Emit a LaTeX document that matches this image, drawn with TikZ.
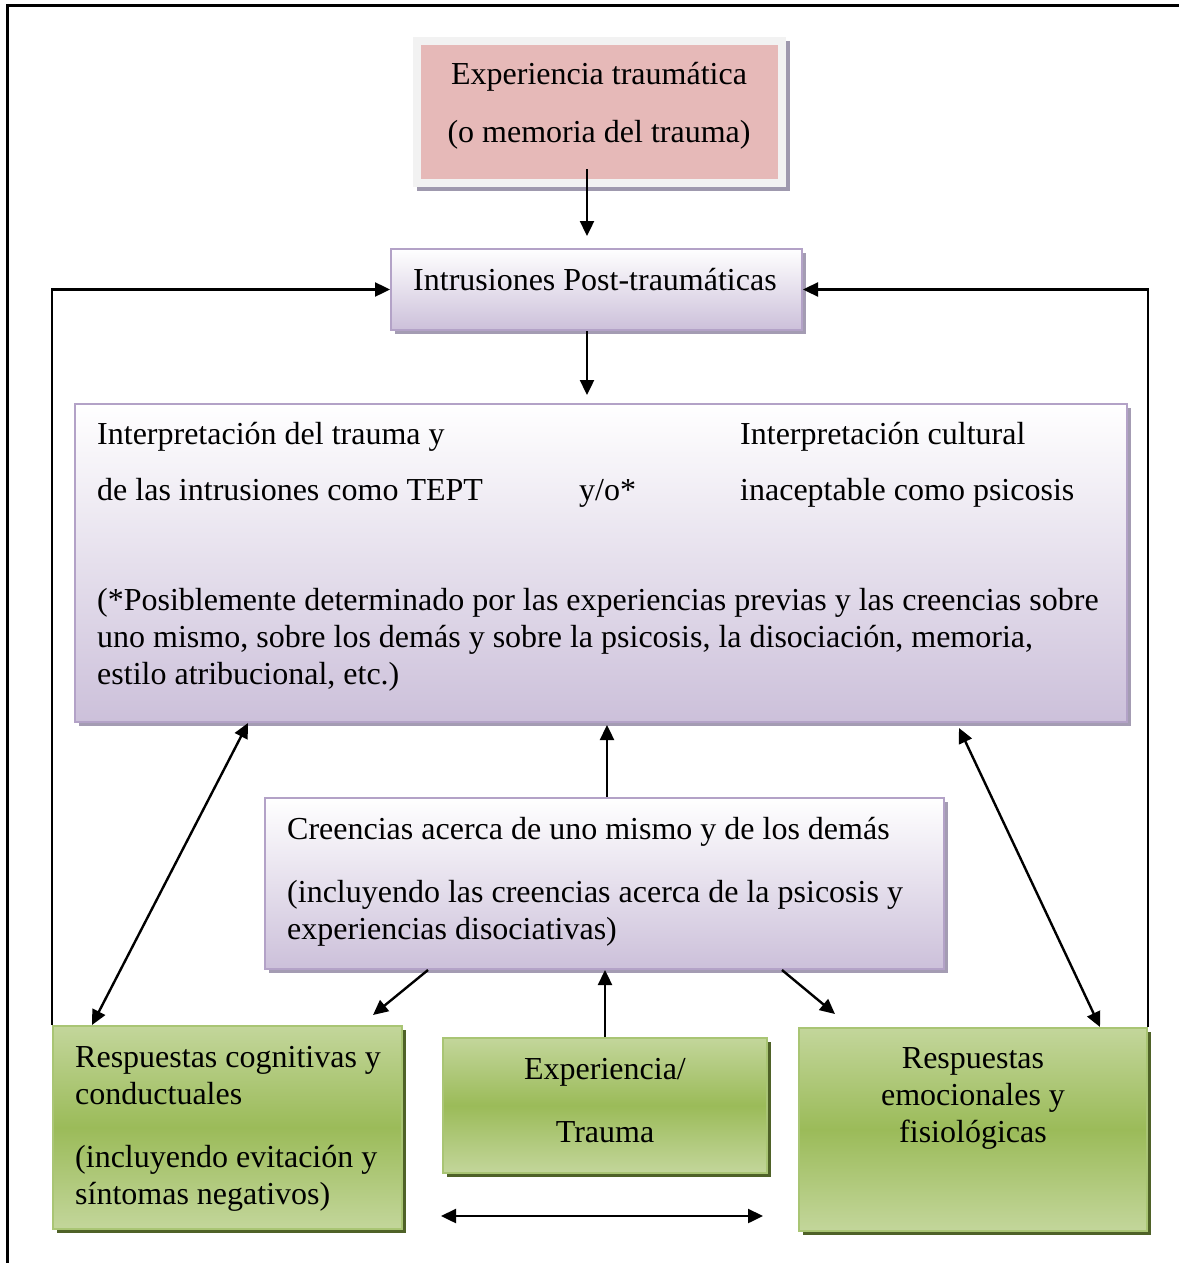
\documentclass[tikz,border=0pt]{standalone}
\usepackage{fontspec}
\setmainfont{Liberation Serif}
\usetikzlibrary{arrows.meta,shadows,calc}
\definecolor{rosa}{HTML}{E6B9B8}
\definecolor{rosamarco}{HTML}{F2F2F2}
\definecolor{rosasombra}{HTML}{9F99AE}
\definecolor{lila}{HTML}{CCC0DA}
\definecolor{lilaborde}{HTML}{B3A2C7}
\definecolor{lilasombra}{HTML}{A49CB3}
\definecolor{verdeclaro}{HTML}{C3D69B}
\definecolor{verdemedio}{HTML}{9BBB59}
\definecolor{verdeborde}{HTML}{A9C574}
\definecolor{verdesombra}{HTML}{4F6228}
\newcommand{\flecha}{-{Triangle[length=7.5pt,width=7pt]}}
\newcommand{\dobleflecha}{{Triangle[length=7.5pt,width=7pt]}-{Triangle[length=7.5pt,width=7pt]}}

\tikzset{
  sombra/.style={drop shadow={shadow xshift=2pt,shadow yshift=-2pt,fill=#1,opacity=1}},
  rosacaja/.style={fill=rosamarco, inner sep=0pt, sombra=rosasombra,
    path picture={\fill[rosa] ([shift={(4pt,-4pt)}]path picture bounding box.north west)
      rectangle ([shift={(-4pt,4pt)}]path picture bounding box.south east);}},
  lilacaja/.style={draw=lilaborde, line width=1pt, inner sep=0pt, top color=white, bottom color=lila, sombra=lilasombra},
  verdecaja/.style={draw=verdeborde, line width=1pt, inner sep=0pt, top color=verdeclaro, bottom color=verdeclaro,
    middle color=verdemedio, sombra=verdesombra},
  texto/.style={inner sep=0pt, font=\fontsize{16}{18.5}\selectfont}
}

\begin{document}
\begin{tikzpicture}[x=0.5pt,y=-0.5pt,line width=1.2pt]
  \useasboundingbox (0,0) rectangle (1179,1263);
  % marco exterior
  \draw[line width=1.5pt] (7,1263) |- (1179,6);

  % cajas
  \node[rosacaja, minimum width=186.5pt, minimum height=75pt] (exper) at (599.5,112) {};
  \node[lilacaja, minimum width=205.5pt, minimum height=40.5pt] (intr) at (596.5,289.5) {};
  \node[lilacaja, minimum width=526pt, minimum height=159pt] (grande) at (601,563) {};
  \node[lilacaja, minimum width=339.5pt, minimum height=85.5pt] (creen) at (604.5,883.5) {};
  \node[verdecaja, minimum width=174.5pt, minimum height=101.5pt] (gizq) at (227.5,1127.5) {};
  \node[verdecaja, minimum width=162pt, minimum height=67.5pt] (gmed) at (605,1105.5) {};
  \node[verdecaja, minimum width=174pt, minimum height=101.5pt] (gder) at (973,1129.5) {};

  % textos (el ancla base es la ultima linea)
  \node[texto, anchor=base, align=center] (t-exper) at (599,142)
    {Experiencia traumática\\[10pt](o memoria del trauma)};
  \node[texto, anchor=base west] (t-intr) at (412,290) {Intrusiones Post-traumáticas};
  \node[texto, anchor=base west, align=left] (t-tept) at (96,500)
    {Interpretación del trauma y\\[9.5pt]de las intrusiones como TEPT};
  \node[texto, anchor=base west] (t-yo) at (578,500) {y/o*};
  \node[texto, anchor=base west, align=left] (t-cult) at (739,500)
    {Interpretación cultural\\[9.5pt]inaceptable como psicosis};
  \node[texto, anchor=base west, align=left] (t-nota) at (96,684)
    {(*Posiblemente determinado por las experiencias previas y las creencias sobre\\
     uno mismo, sobre los demás y sobre la psicosis, la disociación, memoria,\\
     estilo atribucional, etc.)};
  \node[texto, anchor=base west, align=left] (t-creen) at (286,939)
    {Creencias acerca de uno mismo y de los demás\\[13pt]
     (incluyendo las creencias acerca de la psicosis y\\experiencias disociativas)};
  \node[texto, anchor=base west, align=left] (t-gizq) at (74,1204)
    {Respuestas cognitivas y\\conductuales\\[13pt](incluyendo evitación y\\síntomas negativos)};
  \node[texto, anchor=base, align=center] (t-gmed) at (605,1142)
    {Experiencia/\\[13pt]Trauma};
  \node[texto, anchor=base, align=center] (t-gder) at (973,1142)
    {Respuestas\\emocionales y\\fisiológicas};

  % flechas
  \draw[\flecha] ([xshift=-6.25pt,yshift=9.5pt]exper.south) -- ([xshift=-4.75pt,yshift=6pt]intr.north);
  \draw[\flecha] ([xshift=-4.75pt]intr.south) -- ([xshift=-7pt,yshift=4pt]grande.north);
  \draw[\flecha] (gizq.north west) |- (intr.west);
  \draw[\flecha] (gder.north east) |- (intr.east);
  \draw[\flecha] ([xshift=1.25pt]creen.north) -- ([xshift=3pt,yshift=-1pt]grande.south);
  \draw[\dobleflecha] ([xshift=87pt]grande.south west) -- ([xshift=20pt]gizq.north west);
  \draw[\dobleflecha] ([xshift=-84.5pt,yshift=-2.5pt]grande.south east) -- ([xshift=-24pt]gder.north east);
  \draw[\flecha] ([xshift=82pt]creen.south west) -- ([xshift=-15pt,yshift=5pt]gizq.north east);
  \draw[\flecha] ([xshift=-81.5pt]creen.south east) -- ([xshift=18.5pt,yshift=6.5pt]gder.north west);
  \draw[\flecha] (gmed.north) -- (gmed.north |- creen.south);
  \coordinate (hizq) at (441,1216);
  \coordinate (hder) at (763,1216);
  \draw[\dobleflecha] (hizq) -- (hder);
\end{tikzpicture}
\end{document}
